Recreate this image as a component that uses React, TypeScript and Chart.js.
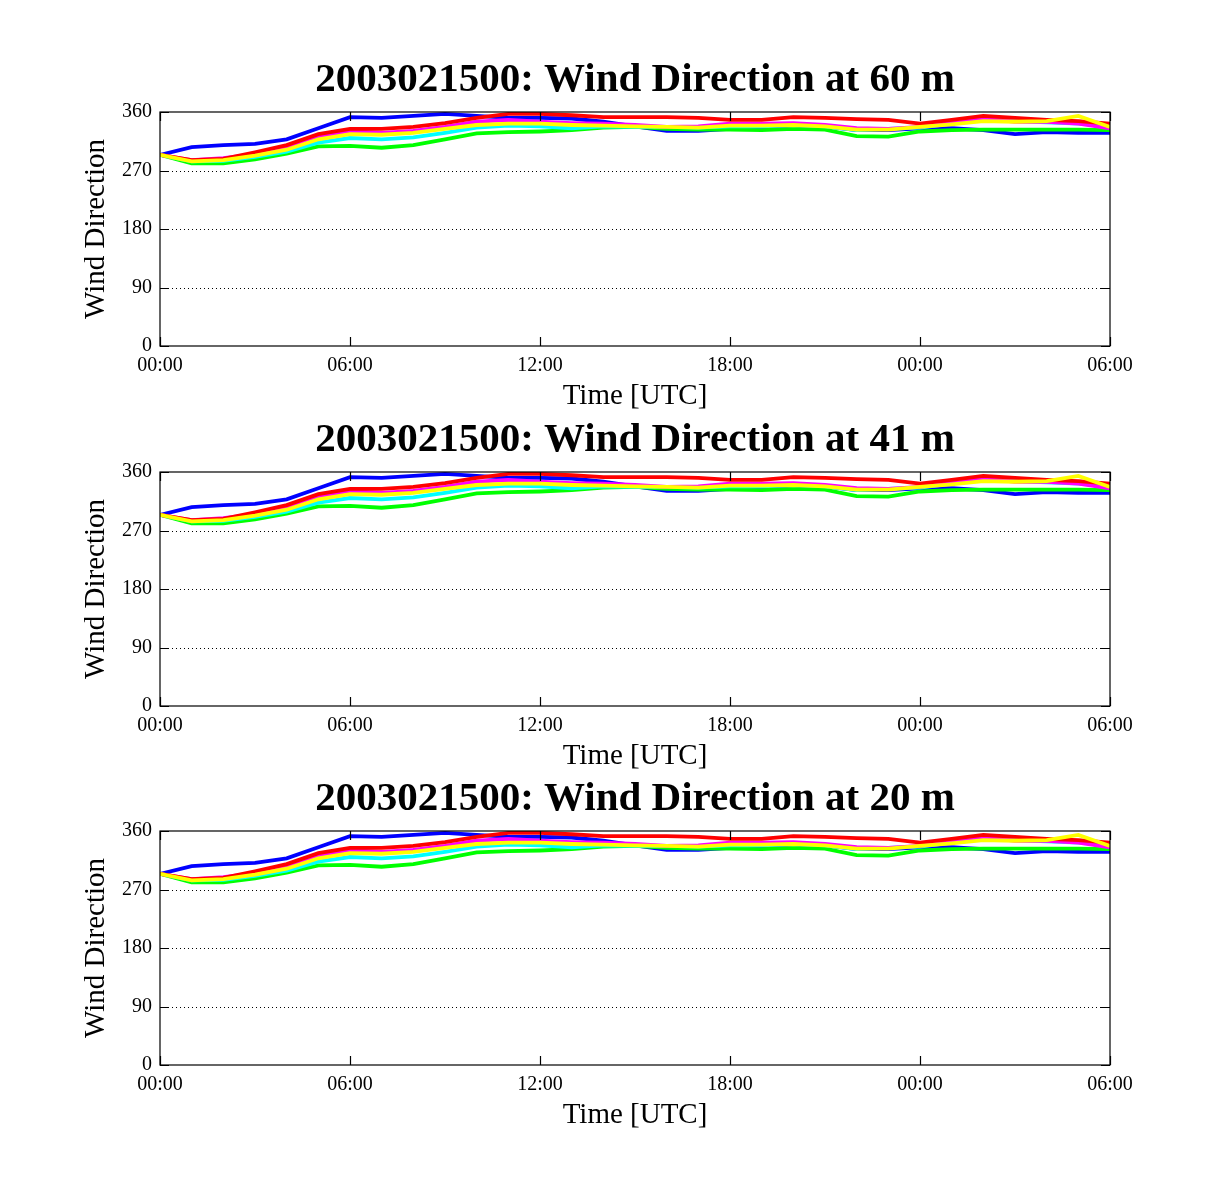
import React, { useEffect, useRef } from 'react';
import { Chart, registerables } from 'chart.js';

Chart.register(...registerables);

// hourly samples, 00:00 day 1 to 06:00 day 2
const hours = Array.from({ length: 31 }, (_, i) => i);

const heights = ['60', '41', '20'];
const runId = '2003021500';

const yellowDir = [294, 284, 286, 293, 302, 318, 326, 325, 328, 334, 340, 342, 342, 340, 339, 338, 337, 336, 339, 339, 340, 338, 333, 333, 337, 341, 346, 345, 346, 354, 337];
const redDir = [294, 286, 288, 298, 309, 326, 334, 334, 337, 343, 351, 357, 357, 355, 352, 352, 352, 351, 348, 348, 352, 351, 349, 348, 342, 348, 354, 351, 348, 346, 342];
const magentaDir = [294, 286, 289, 295, 306, 322, 331, 328, 331, 337, 345, 348, 345, 343, 342, 340, 337, 338, 342, 342, 343, 340, 335, 334, 337, 345, 351, 345, 345, 342, 335];
const cyanDir = [294, 284, 285, 291, 299, 313, 320, 318, 321, 328, 336, 339, 338, 335, 338, 337, 337, 336, 338, 338, 340, 338, 332, 334, 336, 342, 348, 346, 344, 342, 340];
const greenDir = [294, 281, 281, 287, 296, 307, 308, 305, 309, 318, 327, 329, 330, 332, 336, 337, 334, 333, 333, 332, 334, 333, 323, 322, 330, 332, 333, 333, 333, 333, 332];
const blueDir = [294, 306, 309, 311, 318, 335, 352, 351, 354, 357, 354, 351, 351, 350, 345, 338, 331, 331, 334, 335, 338, 338, 332, 332, 335, 335, 332, 326, 329, 328, 328];

const seriesList = [
  { color: '#ffff00', values: yellowDir },
  { color: '#ff0000', values: redDir },
  { color: '#ff00ff', values: magentaDir },
  { color: '#00ffff', values: cyanDir },
  { color: '#00ff00', values: greenDir },
  { color: '#0000ff', values: blueDir },
];

const yTicks = [0, 90, 180, 270, 360];

const serif = '"Liberation Serif", "Times New Roman", serif';

const boxPlugin = {
  id: 'matlabBox',
  beforeDatasetsDraw(chart: any) {
    const { ctx, chartArea, scales } = chart;
    ctx.save();
    ctx.strokeStyle = '#000';
    ctx.lineWidth = 1;
    ctx.setLineDash([1, 3]);
    yTicks.slice(1, -1).forEach((v) => {
      const y = Math.round(scales.y.getPixelForValue(v)) + 0.5;
      ctx.beginPath();
      ctx.moveTo(chartArea.left, y);
      ctx.lineTo(chartArea.right, y);
      ctx.stroke();
    });
    ctx.restore();
  },
  afterDatasetsDraw(chart: any) {
    const { ctx, chartArea, scales } = chart;
    const { left, right, top, bottom } = chartArea;
    const len = 9;
    ctx.save();
    ctx.strokeStyle = '#000';
    ctx.lineWidth = 1.2;
    ctx.strokeRect(left, top, right - left, bottom - top);
    ctx.beginPath();
    scales.x.ticks.forEach((t: any) => {
      const x = Math.round(scales.x.getPixelForValue(t.value)) + 0.5;
      ctx.moveTo(x, bottom);
      ctx.lineTo(x, bottom - len);
      ctx.moveTo(x, top);
      ctx.lineTo(x, top + len);
    });
    yTicks.forEach((v) => {
      const y = Math.round(scales.y.getPixelForValue(v)) + 0.5;
      ctx.moveTo(left, y);
      ctx.lineTo(left + len, y);
      ctx.moveTo(right, y);
      ctx.lineTo(right - len, y);
    });
    ctx.stroke();
    ctx.restore();
  },
};

const Panel = ({ height, top }: { height: string; top: number }) => {
  const ref = useRef<HTMLCanvasElement | null>(null);

  useEffect(() => {
    if (!ref.current) return;
    const chart = new Chart(ref.current, {
      type: 'line',
      data: {
        datasets: seriesList.map((s) => ({
          data: hours.map((h, i) => ({ x: h, y: s.values[i] })),
          borderColor: s.color,
          backgroundColor: s.color,
          borderWidth: 3.8,
          pointRadius: 0,
          tension: 0,
        })),
      },
      options: {
        animation: false,
        responsive: false,
        events: [],
        layout: { padding: 0 },
        plugins: {
          legend: { display: false },
          tooltip: { enabled: false },
          title: {
            display: true,
            text: `${runId}: Wind Direction at ${height} m`,
            color: '#000',
            font: { family: serif, size: 41, weight: 'bold', lineHeight: 1.2 },
            padding: { top: 10.4, bottom: 7.4 },
          },
        },
        scales: {
          x: {
            type: 'linear',
            min: 0,
            max: 30,
            grid: { display: false, drawTicks: false },
            border: { display: false },
            ticks: {
              stepSize: 6,
              color: '#000',
              padding: 8,
              maxRotation: 0,
              font: { family: serif, size: 20 },
              callback: (v: any) => String(Number(v) % 24).padStart(2, '0') + ':00',
            },
            title: {
              display: true,
              text: 'Time [UTC]',
              color: '#000',
              font: { family: serif, size: 29, lineHeight: 1.2 },
              padding: 6.6,
            },
            afterFit: (scale: any) => {
              scale.height = 74;
            },
          },
          y: {
            min: 0,
            max: 360,
            grid: { display: false, drawTicks: false },
            border: { display: false },
            afterBuildTicks: (scale: any) => {
              scale.ticks = yTicks.map((v) => ({ value: v }));
            },
            ticks: {
              color: '#000',
              padding: 8,
              font: { family: serif, size: 20 },
            },
            title: {
              display: true,
              text: 'Wind Direction',
              color: '#000',
              font: { family: serif, size: 29, lineHeight: 1.2 },
              padding: 78.6,
            },
            afterFit: (scale: any) => {
              scale.width = 160;
            },
          },
          // empty right axis, keeps the plot box centred under the title
          yRight: {
            position: 'right',
            min: 0,
            max: 360,
            grid: { display: false, drawTicks: false },
            border: { display: false },
            ticks: { display: false },
            afterFit: (scale: any) => {
              scale.width = 160;
            },
          },
        },
      },
      plugins: [boxPlugin],
    });
    return () => chart.destroy();
  }, [height]);

  return (
    <canvas
      ref={ref}
      width={1270}
      height={375}
      style={{ position: 'absolute', left: 0, top, width: 1270, height: 375 }}
    />
  );
};

const App = () => (
  <div
    style={{
      position: 'absolute',
      left: 0,
      top: 0,
      width: 1227,
      height: 1200,
      overflow: 'hidden',
      background: '#fff',
    }}
  >
    {heights.map((h, i) => (
      <Panel key={h} height={h} top={45 + [0, 360, 719][i]} />
    ))}
  </div>
);

export default App;
